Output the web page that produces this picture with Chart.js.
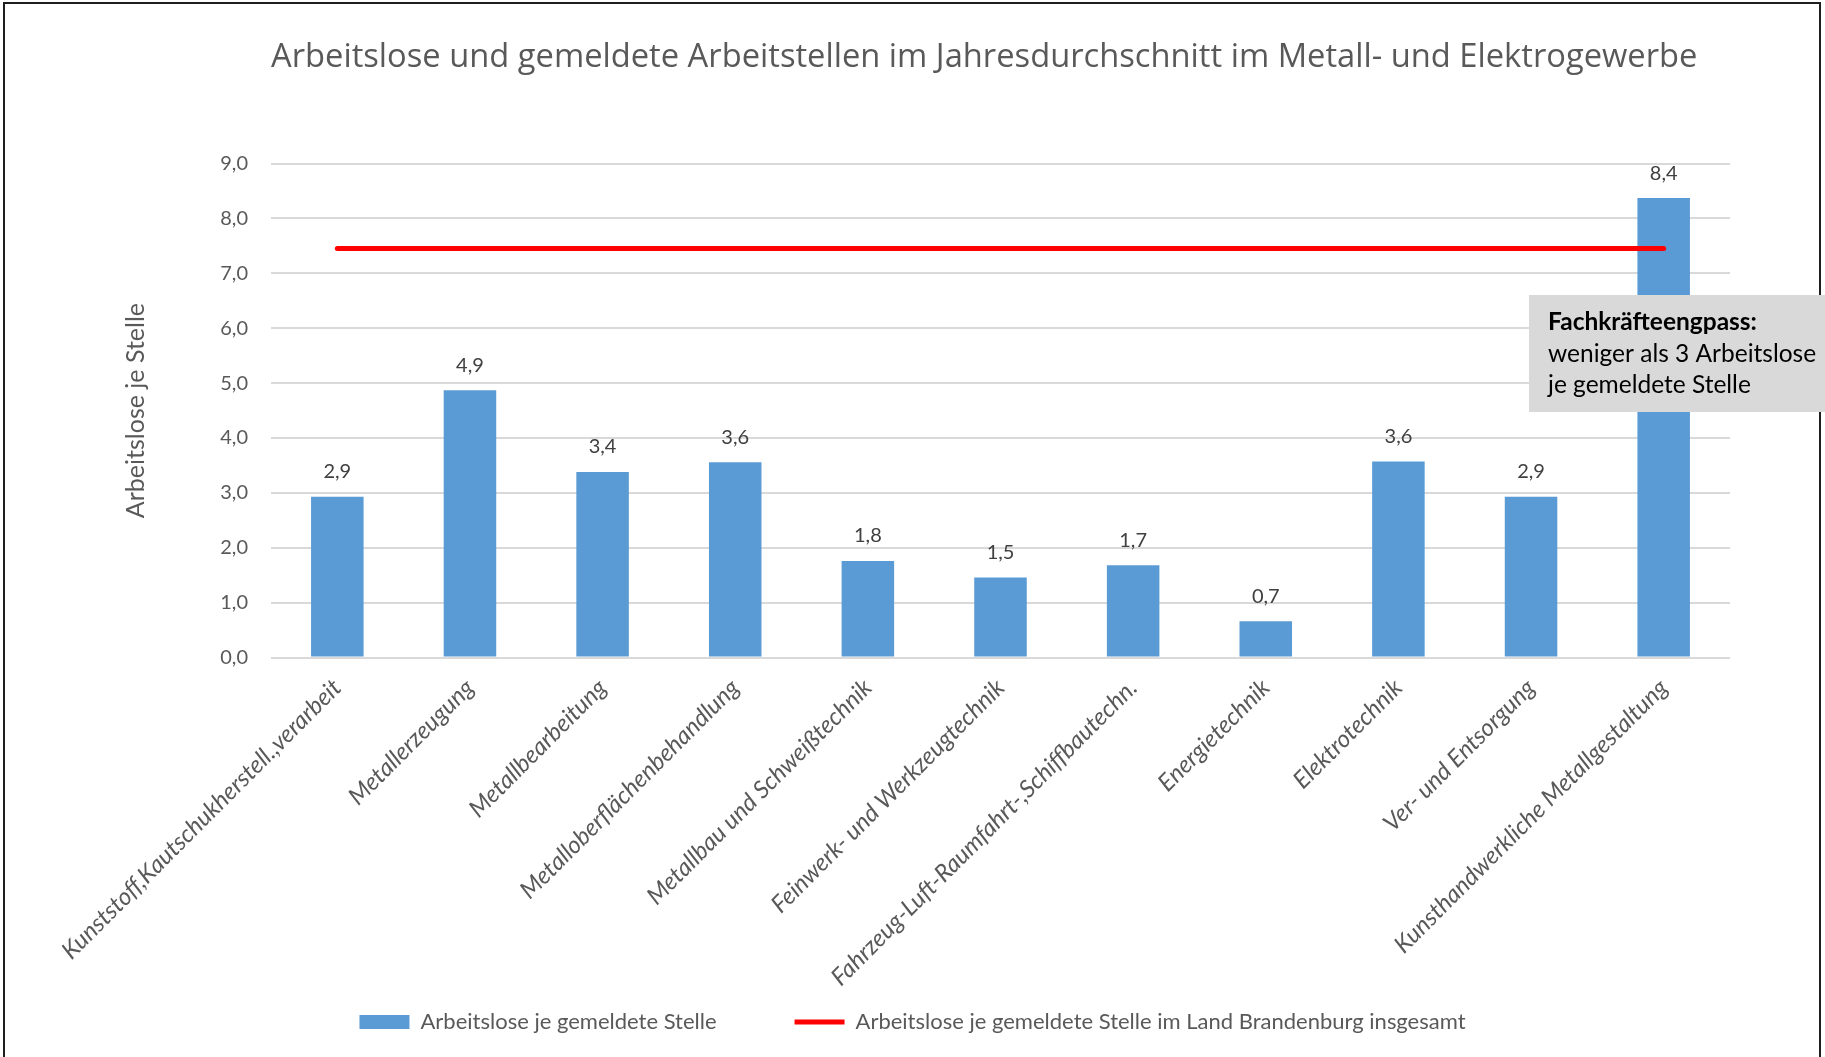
<!DOCTYPE html>
<html>
<head>
<meta charset="utf-8">
<script src="https://cdn.jsdelivr.net/npm/chart.js@4/dist/chart.umd.min.js"></script>
<style>
html,body{margin:0;padding:0;background:#fff;overflow:hidden}
canvas{display:block}
</style>
</head>
<body>
<canvas id="c" width="1825" height="1057"></canvas>
<script>
const chartTitle = 'Arbeitslose und gemeldete Arbeitstellen im Jahresdurchschnitt im Metall- und Elektrogewerbe';
const categories = [
  'Kunststoff,Kautschukherstell.,verarbeit',
  'Metallerzeugung',
  'Metallbearbeitung',
  'Metalloberflächenbehandlung',
  'Metallbau und Schweißtechnik',
  'Feinwerk- und Werkzeugtechnik',
  'Fahrzeug-Luft-Raumfahrt-,Schiffbautechn.',
  'Energietechnik',
  'Elektrotechnik',
  'Ver- und Entsorgung',
  'Kunsthandwerkliche Metallgestaltung'
];
const barSeriesName = 'Arbeitslose je gemeldete Stelle';
const lineSeriesName = 'Arbeitslose je gemeldete Stelle im Land Brandenburg insgesamt';
const barValues = [2.93, 4.87, 3.38, 3.56, 1.76, 1.46, 1.68, 0.66, 3.57, 2.93, 8.37];
const lineValues = [7.45, 7.45, 7.45, 7.45, 7.45, 7.45, 7.45, 7.45, 7.45, 7.45, 7.45];
const yAxisTitle = 'Arbeitslose je Stelle';
const yMin = 0;
const yMax = 9;
const yStep = 1;
const noteTitle = 'Fachkräfteengpass:';
const noteLines = ['weniger als 3 Arbeitslose', 'je gemeldete Stelle'];

const FONT = 'Lato, "Open Sans", sans-serif';
const TITLE_FONT = '"Open Sans", Lato, sans-serif';
const fmt = v => Number(v).toFixed(1).replace('.', ',');

const framePlugin = {
  id: 'frame',
  beforeDraw(chart) {
    const ctx = chart.ctx;
    ctx.save();
    ctx.fillStyle = '#ffffff';
    ctx.fillRect(0, 0, chart.width, chart.height);
    ctx.strokeStyle = '#1e1e1e';
    ctx.lineWidth = 2;
    ctx.beginPath();
    ctx.moveTo(4, chart.height + 10);
    ctx.lineTo(4, 3);
    ctx.lineTo(1820, 3);
    ctx.lineTo(1820, chart.height + 10);
    ctx.stroke();
    ctx.restore();
  }
};

const valueLabelPlugin = {
  id: 'valueLabels',
  afterDatasetsDraw(chart) {
    const ctx = chart.ctx;
    const meta = chart.getDatasetMeta(0);
    ctx.save();
    ctx.fillStyle = '#404040';
    ctx.font = '20px ' + FONT;
    ctx.textAlign = 'center';
    ctx.textBaseline = 'middle';
    meta.data.forEach((el, i) => {
      ctx.fillText(fmt(barValues[i]), el.x, el.y - 25);
    });
    ctx.restore();
  }
};

const notePlugin = {
  id: 'note',
  afterDraw(chart) {
    const ctx = chart.ctx;
    ctx.save();
    ctx.fillStyle = '#d9d9d9';
    ctx.fillRect(1529, 295, 296, 117);
    ctx.fillStyle = '#000000';
    ctx.textAlign = 'left';
    ctx.textBaseline = 'alphabetic';
    ctx.font = 'bold 24.5px ' + FONT;
    ctx.fillText(noteTitle, 1548, 330);
    ctx.font = '24.5px ' + FONT;
    ctx.fillText(noteLines[0], 1548, 362);
    ctx.fillText(noteLines[1], 1548, 393);
    ctx.restore();
  }
};

new Chart(document.getElementById('c'), {
  type: 'bar',
  data: {
    labels: categories,
    datasets: [
      {
        type: 'bar',
        label: barSeriesName,
        data: barValues,
        backgroundColor: '#5B9BD5',
        borderWidth: 0,
        barPercentage: 0.396,
        categoryPercentage: 1,
        order: 2,
        pointStyle: 'rect'
      },
      {
        type: 'line',
        label: lineSeriesName,
        data: lineValues,
        borderColor: '#FF0000',
        backgroundColor: '#FF0000',
        borderWidth: 5,
        borderCapStyle: 'round',
        pointRadius: 0,
        pointHoverRadius: 0,
        fill: false,
        order: 1,
        pointStyle: 'line'
      }
    ]
  },
  options: {
    responsive: false,
    animation: false,
    events: [],
    layout: { padding: { left: 0, right: 0, top: 0, bottom: 14 } },
    scales: {
      x: {
        grid: { display: false },
        border: { display: false },
        ticks: {
          autoSkip: false,
          maxRotation: 45,
          minRotation: 45,
          color: '#595959',
          font: { family: FONT, size: 24, style: 'italic' },
          padding: 8
        },
        afterFit(s) {
          s.height = 275.4;
          s._computeLabelArea = () => null;
        }
      },
      y: {
        min: yMin,
        max: yMax,
        ticks: {
          stepSize: yStep,
          callback: v => fmt(v),
          color: '#595959',
          font: { family: FONT, size: 20 },
          padding: 23
        },
        grid: { color: '#d9d9d9', lineWidth: 2, drawTicks: false },
        border: { display: false },
        title: {
          display: true,
          text: yAxisTitle,
          color: '#595959',
          font: { family: FONT, size: 25 },
          padding: { top: 121, bottom: 0 }
        },
        afterFit(s) { s.width = 271; }
      },
      yR: {
        position: 'right',
        display: true,
        grid: { display: false },
        ticks: { display: false },
        border: { display: false },
        afterFit(s) { s.width = 95; }
      }
    },
    plugins: {
      title: {
        display: true,
        text: chartTitle,
        align: 'start',
        fullSize: false,
        color: '#595959',
        font: { family: TITLE_FONT, size: 32.7, weight: '400' },
        padding: { top: 38.4, bottom: 85.86 }
      },
      legend: {
        position: 'bottom',
        labels: {
          usePointStyle: true,
          pointStyleWidth: 50,
          boxHeight: 14,
          padding: 78,
          color: '#595959',
          font: { family: FONT, size: 22 },
          sort: (a, b) => a.datasetIndex - b.datasetIndex
        }
      },
      tooltip: { enabled: false }
    }
  },
  plugins: [framePlugin, valueLabelPlugin, notePlugin]
});
</script>
</body>
</html>
